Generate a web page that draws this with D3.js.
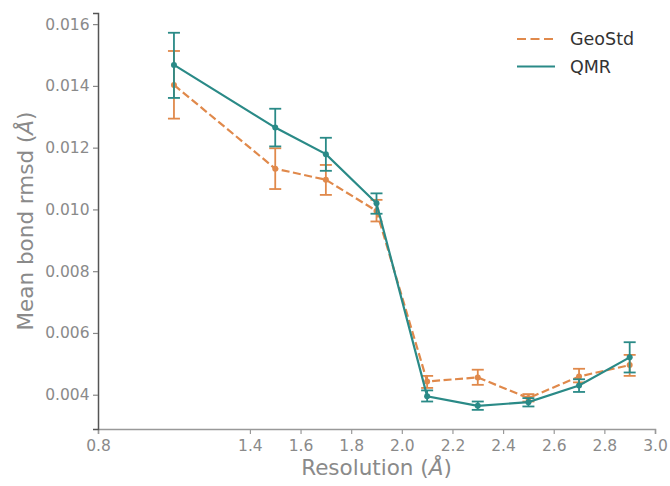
<!DOCTYPE html>
<html>
<head>
<meta charset="utf-8">
<script src="https://cdn.jsdelivr.net/npm/d3@7"></script>
<style>
  body { margin: 0; background: #fff; }
  svg { font-family: "DejaVu Sans", sans-serif; }
</style>
</head>
<body>
<div id="chart"></div>
<script>
// resolution bins
var resolution = [1.1, 1.5, 1.7, 1.9, 2.1, 2.3, 2.5, 2.7, 2.9];

// GeoStd mean bond rmsd and error bar limits
var geoMean = [0.01403, 0.01132, 0.01096, 0.00995, 0.00443, 0.00456, 0.00389, 0.00459, 0.00496];
var geoLow  = [0.01294, 0.01066, 0.01047, 0.00961, 0.00422, 0.00432, 0.00378, 0.00440, 0.00461];
var geoHigh = [0.01513, 0.01198, 0.01144, 0.01031, 0.00461, 0.00481, 0.00402, 0.00484, 0.00529];

// QMR mean bond rmsd and error bar limits
var qmrMean = [0.01468, 0.01265, 0.01179, 0.01020, 0.00395, 0.00364, 0.00376, 0.00430, 0.00521];
var qmrLow  = [0.01361, 0.01204, 0.01125, 0.00986, 0.00378, 0.00351, 0.00362, 0.00409, 0.00472];
var qmrHigh = [0.01572, 0.01326, 0.01232, 0.01052, 0.00414, 0.00378, 0.00389, 0.00450, 0.00570];

var xTicks = [0.8, 1.4, 1.6, 1.8, 2.0, 2.2, 2.4, 2.6, 2.8, 3.0];
var yTicks = [0.004, 0.006, 0.008, 0.010, 0.012, 0.014, 0.016];

var width = 670, height = 486;
var margin = {top: 13, right: 15, bottom: 57, left: 98};

var svg = d3.select("#chart").append("svg")
    .attr("width", width)
    .attr("height", height);

var x = d3.scaleLinear().domain([0.8, 3.0]).range([margin.left, width - margin.right]);
var y = d3.scaleLinear().domain([0.00289, 0.01636]).range([height - margin.bottom, margin.top]);

// axes
var xAxis = svg.append("g")
    .attr("transform", "translate(0," + (height - margin.bottom) + ")")
    .call(d3.axisBottom(x).tickValues(xTicks).tickFormat(d3.format(".1f")).tickSize(5).tickPadding(6));
xAxis.attr("font-size", null).attr("font-family", null);
xAxis.select(".domain").attr("stroke", "#999").attr("stroke-width", 1.5);
xAxis.selectAll(".tick line").attr("stroke", "#999").attr("stroke-width", 1.2);
xAxis.selectAll("text").attr("fill", "#8a8a8a").attr("font-size", "15.5px");

var yAxis = svg.append("g")
    .attr("transform", "translate(" + margin.left + ",0)")
    .call(d3.axisLeft(y).tickValues(yTicks).tickFormat(d3.format(".3f")).tickSize(5).tickPadding(3.5));
yAxis.attr("font-size", null).attr("font-family", null);
yAxis.select(".domain").attr("stroke", "#555").attr("stroke-width", 1.5);
yAxis.selectAll(".tick line").attr("stroke", "#888").attr("stroke-width", 1.2);
yAxis.selectAll("text").attr("fill", "#8a8a8a").attr("font-size", "15.5px");

// axis labels
svg.append("text")
    .attr("x", (margin.left + width - margin.right) / 2)
    .attr("y", 475)
    .attr("text-anchor", "middle")
    .attr("fill", "#8a8a8a")
    .attr("font-size", "21.5px")
    .html("Resolution (<tspan font-style='italic'>Å</tspan>)");

svg.append("text")
    .attr("transform", "translate(33," + ((margin.top + height - margin.bottom) / 2) + ") rotate(-90)")
    .attr("text-anchor", "middle")
    .attr("fill", "#8a8a8a")
    .attr("font-size", "21.5px")
    .html("Mean bond rmsd (<tspan font-style='italic'>Å</tspan>)");

function drawSeries(mean, low, high, colour, dash) {
    var pts = resolution.map(function(r, i) {
        return {x: r, m: mean[i], lo: low[i], hi: high[i]};
    });
    var line = d3.line()
        .x(function(d) { return x(d.x); })
        .y(function(d) { return y(d.m); });
    svg.append("path")
        .datum(pts)
        .attr("d", line)
        .attr("fill", "none")
        .attr("stroke", colour)
        .attr("stroke-width", 2.2)
        .attr("stroke-dasharray", dash);

    var g = svg.append("g").attr("stroke", colour).attr("stroke-width", 1.8);
    pts.forEach(function(d) {
        g.append("line")
            .attr("x1", x(d.x)).attr("x2", x(d.x))
            .attr("y1", y(d.lo)).attr("y2", y(d.hi));
        g.append("line")
            .attr("x1", x(d.x) - 6).attr("x2", x(d.x) + 6)
            .attr("y1", y(d.lo)).attr("y2", y(d.lo));
        g.append("line")
            .attr("x1", x(d.x) - 6).attr("x2", x(d.x) + 6)
            .attr("y1", y(d.hi)).attr("y2", y(d.hi));
    });
    svg.append("g").selectAll("circle")
        .data(pts)
        .enter().append("circle")
        .attr("cx", function(d) { return x(d.x); })
        .attr("cy", function(d) { return y(d.m); })
        .attr("r", 3)
        .attr("fill", colour);
}

var orange = "#e0894b", teal = "#2a8a87";
drawSeries(geoMean, geoLow, geoHigh, orange, "8,3.5");
drawSeries(qmrMean, qmrLow, qmrHigh, teal, null);

// legend
var legend = [
    {name: "GeoStd", colour: orange, dash: "9,4.5"},
    {name: "QMR", colour: teal, dash: null}
];
legend.forEach(function(l, i) {
    var ly = 39 + i * 27.5;
    svg.append("line")
        .attr("x1", 517).attr("x2", 555)
        .attr("y1", ly).attr("y2", ly)
        .attr("stroke", l.colour)
        .attr("stroke-width", 2.2)
        .attr("stroke-dasharray", l.dash);
    svg.append("text")
        .attr("x", 570).attr("y", ly)
        .attr("dy", "0.36em")
        .attr("fill", "#333")
        .attr("font-size", "17.5px")
        .text(l.name);
});
</script>
</body>
</html>
